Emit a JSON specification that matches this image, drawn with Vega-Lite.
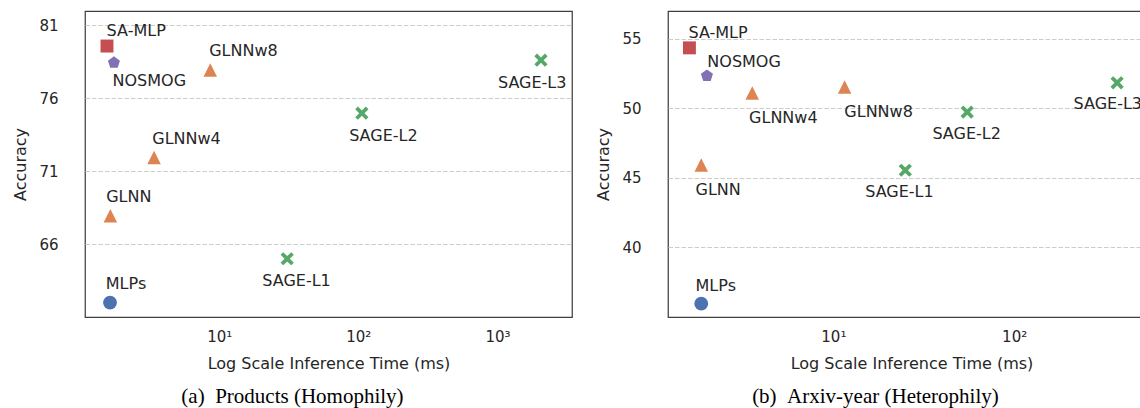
{
  "$schema": "https://vega.github.io/schema/vega-lite/v6.json",
  "padding": {"left": 12, "top": 10, "right": 0, "bottom": 0},
  "spacing": 22,
  "background": "white",
  "config": {
    "view": {"stroke": "#404040", "strokeWidth": 1.25},
    "font": "DejaVu Sans",
    "axis": {
      "labelFont": "DejaVu Sans", "titleFont": "DejaVu Sans",
      "labelColor": "#262626", "titleColor": "#262626",
      "labelFontSize": 15, "titleFontSize": 16, "titleFontWeight": "normal",
      "ticks": false, "domain": false
    },
    "axisY": {"grid": true, "gridColor": "#cccccc", "gridDash": [4.5, 2], "gridWidth": 1, "labelPadding": 27, "titlePadding": 10},
    "axisX": {"grid": false, "labelPadding": 12, "titlePadding": 11}
  },
  "datasets": {
    "products": [
      {"name": "SA-MLP", "group": "SA-MLP", "time": 1.56, "acc": 79.56, "lx": 1.55, "ly": 80.69},
      {"name": "NOSMOG", "group": "NOSMOG", "time": 1.75, "acc": 78.42, "lx": 1.71, "ly": 77.25},
      {"name": "GLNNw8", "group": "GLNN", "time": 8.62, "acc": 77.92, "lx": 8.47, "ly": 79.29},
      {"name": "SAGE-L3", "group": "SAGE", "time": 2056, "acc": 78.59, "lx": 1009, "ly": 77.1},
      {"name": "SAGE-L2", "group": "SAGE", "time": 106, "acc": 74.96, "lx": 85.9, "ly": 73.48},
      {"name": "GLNNw4", "group": "GLNN", "time": 3.40, "acc": 71.92, "lx": 3.30, "ly": 73.29},
      {"name": "GLNN", "group": "GLNN", "time": 1.65, "acc": 67.94, "lx": 1.54, "ly": 69.3},
      {"name": "SAGE-L1", "group": "SAGE", "time": 30.8, "acc": 64.99, "lx": 20.4, "ly": 63.56},
      {"name": "MLPs", "group": "MLP", "time": 1.64, "acc": 61.99, "lx": 1.53, "ly": 63.34}
    ],
    "arxiv": [
      {"name": "SA-MLP", "group": "SA-MLP", "time": 1.60, "acc": 54.35, "lx": 1.58, "ly": 55.5},
      {"name": "NOSMOG", "group": "NOSMOG", "time": 2.0, "acc": 52.34, "lx": 2.01, "ly": 53.43},
      {"name": "GLNNw4", "group": "GLNN", "time": 3.56, "acc": 51.11, "lx": 3.42, "ly": 49.4},
      {"name": "GLNNw8", "group": "GLNN", "time": 11.55, "acc": 51.53, "lx": 11.5, "ly": 49.81},
      {"name": "SAGE-L3", "group": "SAGE", "time": 371, "acc": 51.84, "lx": 213, "ly": 50.37},
      {"name": "SAGE-L2", "group": "SAGE", "time": 55, "acc": 49.73, "lx": 35.3, "ly": 48.25},
      {"name": "GLNN", "group": "GLNN", "time": 1.86, "acc": 45.93, "lx": 1.73, "ly": 44.18},
      {"name": "SAGE-L1", "group": "SAGE", "time": 25.0, "acc": 45.55, "lx": 15.0, "ly": 44.06},
      {"name": "MLPs", "group": "MLP", "time": 1.86, "acc": 35.96, "lx": 1.73, "ly": 37.28}
    ]
  },
  "hconcat": [
    {
      "width": 487,
      "height": 306,
      "title": {"text": "(a)\u2002Products (Homophily)", "orient": "bottom", "anchor": "middle", "frame": "bounds", "font": "Liberation Serif", "fontSize": 21, "fontWeight": "normal", "color": "#000000", "offset": 15, "dx": 0},
      "data": {"name": "products"},
      "layer": [
        {
          "mark": {"type": "point", "filled": true, "opacity": 1, "strokeWidth": 0},
          "encoding": {
            "x": {"field": "time", "type": "quantitative", "scale": {"type": "log", "domain": [1.084, 3436], "nice": false}, "axis": {"values": [10, 100, 1000], "labelExpr": "datum.value == 10 ? '10¹' : datum.value == 100 ? '10²' : '10³'", "title": "Log Scale Inference Time (ms)"}},
            "y": {"field": "acc", "type": "quantitative", "scale": {"domain": [61.0, 81.96], "nice": false, "zero": false}, "axis": {"values": [66, 71, 76, 81], "title": "Accuracy"}},
            "color": {"field": "group", "type": "nominal", "scale": {"domain": ["MLP", "GLNN", "SAGE", "SA-MLP", "NOSMOG"], "range": ["#4C72B0", "#DD8452", "#55A868", "#C44E52", "#8172B3"]}, "legend": null},
            "shape": {"field": "group", "type": "nominal", "scale": {"domain": ["MLP", "GLNN", "SAGE", "SA-MLP", "NOSMOG"], "range": ["circle", "M0,-1L1,1L-1,1Z", "M-1,-0.6L-0.6,-1L0,-0.4L0.6,-1L1,-0.6L0.4,0L1,0.6L0.6,1L0,0.4L-0.6,1L-1,0.6L-0.4,0Z", "square", "M0,-1L0.951,-0.309L0.588,0.809L-0.588,0.809L-0.951,-0.309Z"]}, "legend": null},
            "size": {"field": "group", "type": "nominal", "scale": {"domain": ["MLP", "GLNN", "SAGE", "SA-MLP", "NOSMOG"], "range": [190, 160, 169, 128, 215]}, "legend": null}
          }
        },
        {
          "mark": {"type": "text", "align": "left", "baseline": "middle", "fontSize": 16, "font": "DejaVu Sans", "color": "#262626", "dy": 1},
          "encoding": {
            "x": {"field": "lx", "type": "quantitative"},
            "y": {"field": "ly", "type": "quantitative"},
            "text": {"field": "name"}
          }
        }
      ]
    },
    {
      "width": 487,
      "height": 306,
      "title": {"text": "(b)\u2002Arxiv-year (Heterophily)", "orient": "bottom", "anchor": "middle", "frame": "bounds", "font": "Liberation Serif", "fontSize": 21, "fontWeight": "normal", "color": "#000000", "offset": 15, "dx": 0},
      "data": {"name": "arxiv"},
      "layer": [
        {
          "mark": {"type": "point", "filled": true, "opacity": 1, "strokeWidth": 0},
          "encoding": {
            "x": {"field": "time", "type": "quantitative", "scale": {"type": "log", "domain": [1.218, 601], "nice": false}, "axis": {"values": [10, 100], "labelExpr": "datum.value == 10 ? '10¹' : '10²'", "title": "Log Scale Inference Time (ms)"}},
            "y": {"field": "acc", "type": "quantitative", "scale": {"domain": [35.0, 57.0], "nice": false, "zero": false}, "axis": {"values": [40, 45, 50, 55], "title": "Accuracy"}},
            "color": {"field": "group", "type": "nominal", "legend": null},
            "shape": {"field": "group", "type": "nominal", "legend": null},
            "size": {"field": "group", "type": "nominal", "legend": null}
          }
        },
        {
          "mark": {"type": "text", "align": "left", "baseline": "middle", "fontSize": 16, "font": "DejaVu Sans", "color": "#262626", "dy": 1, "clip": true},
          "encoding": {
            "x": {"field": "lx", "type": "quantitative"},
            "y": {"field": "ly", "type": "quantitative"},
            "text": {"field": "name"}
          }
        }
      ]
    }
  ]
}
